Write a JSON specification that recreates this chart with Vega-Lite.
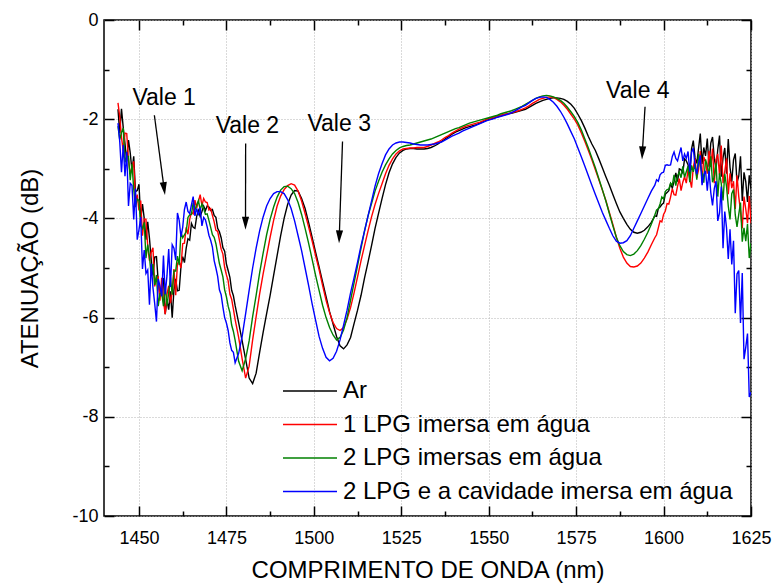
{
  "$schema": "https://vega.github.io/schema/vega-lite/v6.json",
  "width": 647,
  "height": 496,
  "autosize": {"type": "none"},
  "padding": {"left": 104, "top": 20, "right": 23, "bottom": 70},
  "background": "white",
  "config": {
    "font": "Liberation Sans",
    "view": {"stroke": "black", "strokeWidth": 1.5},
    "axis": {
      "labelFont": "Liberation Sans", "titleFont": "Liberation Sans",
      "labelFontSize": 18, "titleFontSize": 24, "titleFontWeight": "normal",
      "labelColor": "black", "titleColor": "black", "tickColor": "black",
      "tickWidth": 1.5, "domain": false, "labelFlush": false, "labelOverlap": false
    },
    "line": {"strokeWidth": 1.4}
  },
  "datasets": {
    "spectra": [
      {"w":1444,"a":-1.8,"b":-1.67,"c":-2.14,"d":-2.08},
      {"w":1444.5,"a":-2.28,"b":-1.95,"c":-2.41,"d":-2.45},
      {"w":1445,"a":-1.79,"b":-2.36,"c":-2.27,"d":-3.07},
      {"w":1445.5,"a":-2.17,"b":-2.65,"c":-2.18,"d":-2.52},
      {"w":1446,"a":-2.49,"b":-2.28,"c":-2.87,"d":-3.15},
      {"w":1446.5,"a":-2.85,"b":-2.29,"c":-2.75,"d":-2.66},
      {"w":1447,"a":-2.42,"b":-2.82,"c":-2.75,"d":-3.75},
      {"w":1447.5,"a":-2.68,"b":-3.11,"c":-3.23,"d":-3.29},
      {"w":1448,"a":-3.04,"b":-2.98,"c":-2.9,"d":-3.33},
      {"w":1448.5,"a":-2.75,"b":-2.85,"c":-3.41,"d":-4.02},
      {"w":1449,"a":-3.46,"b":-3.66,"c":-3.77,"d":-3.4},
      {"w":1449.5,"a":-3.44,"b":-3.52,"c":-3.61,"d":-4.43},
      {"w":1450,"a":-3.31,"b":-3.84,"c":-3.64,"d":-4.23},
      {"w":1450.5,"a":-4.02,"b":-3.64,"c":-4.15,"d":-3.97},
      {"w":1451,"a":-3.71,"b":-4.35,"c":-4.21,"d":-5.02},
      {"w":1451.5,"a":-4.0,"b":-4.01,"c":-4.08,"d":-4.64},
      {"w":1452,"a":-4.43,"b":-4.02,"c":-4.8,"d":-5.11},
      {"w":1452.5,"a":-4.07,"b":-4.56,"c":-4.53,"d":-5.04},
      {"w":1453,"a":-4.4,"b":-4.85,"c":-4.77,"d":-5.74},
      {"w":1453.5,"a":-4.83,"b":-4.68,"c":-5.16,"d":-4.91},
      {"w":1454,"a":-5.15,"b":-4.59,"c":-4.92,"d":-5.4},
      {"w":1454.5,"a":-4.78,"b":-5.37,"c":-5.34,"d":-5.72},
      {"w":1455,"a":-4.77,"b":-5.2,"c":-5.14,"d":-6.08},
      {"w":1455.5,"a":-5.27,"b":-5.18,"c":-5.77,"d":-5.22},
      {"w":1456,"a":-5.54,"b":-5.66,"c":-5.52,"d":-5.37},
      {"w":1456.5,"a":-5.38,"b":-5.2,"c":-5.5,"d":-5.57},
      {"w":1457,"a":-5.2,"b":-5.67,"c":-5.77,"d":-4.75},
      {"w":1457.5,"a":-5.93,"b":-5.93,"c":-5.35,"d":-5.53},
      {"w":1458,"a":-5.65,"b":-5.53,"c":-5.76,"d":-5.16},
      {"w":1458.5,"a":-5.84,"b":-5.36,"c":-5.5,"d":-4.62},
      {"w":1459,"a":-5.47,"b":-5.71,"c":-5.19,"d":-5.38},
      {"w":1459.5,"a":-6.0,"b":-5.49,"c":-5.54,"d":-4.53},
      {"w":1460,"a":-5.44,"b":-5.02,"c":-5.06,"d":-4.6},
      {"w":1460.5,"a":-5.22,"b":-5.55,"c":-5.06,"d":-4.84},
      {"w":1461,"a":-5.46,"b":-4.91,"c":-4.76,"d":-3.89},
      {"w":1461.5,"a":-5.45,"b":-4.87,"c":-4.94,"d":-4.04},
      {"w":1462,"a":-4.98,"b":-5.0,"c":-4.28,"d":-4.37},
      {"w":1462.5,"a":-4.77,"b":-4.51,"c":-4.39,"d":-4.18},
      {"w":1463,"a":-4.89,"b":-4.5,"c":-4.33,"d":-3.82},
      {"w":1463.5,"a":-4.6,"b":-4.18,"c":-4.27,"d":-3.67},
      {"w":1464,"a":-4.41,"b":-4.32,"c":-3.98,"d":-3.86},
      {"w":1464.5,"a":-4.44,"b":-4.02,"c":-3.93,"d":-3.9},
      {"w":1465,"a":-4.1,"b":-3.88,"c":-3.92,"d":-3.73},
      {"w":1465.5,"a":-4.18,"b":-3.91,"c":-3.68,"d":-3.56},
      {"w":1466,"a":-4.2,"b":-3.63,"c":-3.83,"d":-3.95},
      {"w":1466.5,"a":-3.96,"b":-3.79,"c":-3.73,"d":-3.8},
      {"w":1467,"a":-3.84,"b":-3.66,"c":-3.64,"d":-3.94},
      {"w":1467.5,"a":-3.96,"b":-3.52,"c":-3.83,"d":-3.78},
      {"w":1468,"a":-3.86,"b":-3.74,"c":-3.71,"d":-4.15},
      {"w":1468.5,"a":-3.75,"b":-3.6,"c":-3.8,"d":-3.98},
      {"w":1469,"a":-3.84,"b":-3.67,"c":-3.92,"d":-4.03},
      {"w":1469.5,"a":-3.75,"b":-3.68,"c":-3.91,"d":-4.17},
      {"w":1470,"a":-3.77,"b":-3.83,"c":-4.04,"d":-4.34},
      {"w":1470.5,"a":-3.84,"b":-3.8,"c":-4.18,"d":-4.44},
      {"w":1471,"a":-3.82,"b":-3.94,"c":-4.33,"d":-4.58},
      {"w":1471.5,"a":-3.94,"b":-4.07,"c":-4.38,"d":-4.85},
      {"w":1472,"a":-3.98,"b":-4.24,"c":-4.51,"d":-5.0},
      {"w":1472.5,"a":-4.2,"b":-4.26,"c":-4.71,"d":-5.17},
      {"w":1473,"a":-4.27,"b":-4.44,"c":-4.91,"d":-5.44},
      {"w":1473.5,"a":-4.39,"b":-4.62,"c":-5.04,"d":-5.54},
      {"w":1474,"a":-4.59,"b":-4.72,"c":-5.18,"d":-5.79},
      {"w":1474.5,"a":-4.66,"b":-4.99,"c":-5.44,"d":-6.0},
      {"w":1475,"a":-4.92,"b":-5.14,"c":-5.58,"d":-6.11},
      {"w":1475.5,"a":-5.05,"b":-5.26,"c":-5.77,"d":-6.26},
      {"w":1476,"a":-5.19,"b":-5.53,"c":-5.9,"d":-6.51},
      {"w":1476.5,"a":-5.45,"b":-5.63,"c":-6.15,"d":-6.66},
      {"w":1477,"a":-5.56,"b":-5.83,"c":-6.28,"d":-6.7},
      {"w":1477.5,"a":-5.76,"b":-6.04,"c":-6.46,"d":-6.91},
      {"w":1478.5,"a":-6.1,"b":-6.4,"c":-6.88,"d":-6.72},
      {"w":1479.5,"a":-6.47,"b":-6.83,"c":-7.07,"d":-6.38},
      {"w":1480.5,"a":-6.84,"b":-7.22,"c":-6.83,"d":-5.92},
      {"w":1481.5,"a":-7.22,"b":-6.98,"c":-6.47,"d":-5.45},
      {"w":1482.5,"a":-7.33,"b":-6.45,"c":-5.98,"d":-5.0},
      {"w":1483.5,"a":-7.12,"b":-5.98,"c":-5.55,"d":-4.6},
      {"w":1484.5,"a":-6.7,"b":-5.52,"c":-5.1,"d":-4.25},
      {"w":1485.5,"a":-6.3,"b":-5.12,"c":-4.7,"d":-3.97},
      {"w":1486.5,"a":-5.92,"b":-4.75,"c":-4.33,"d":-3.75},
      {"w":1487.5,"a":-5.55,"b":-4.38,"c":-4.02,"d":-3.6},
      {"w":1488.5,"a":-5.15,"b":-4.04,"c":-3.77,"d":-3.5},
      {"w":1489.5,"a":-4.75,"b":-3.75,"c":-3.57,"d":-3.46},
      {"w":1490.5,"a":-4.35,"b":-3.55,"c":-3.43,"d":-3.46},
      {"w":1491.5,"a":-4.0,"b":-3.42,"c":-3.36,"d":-3.5},
      {"w":1492.5,"a":-3.72,"b":-3.34,"c":-3.35,"d":-3.62},
      {"w":1493.5,"a":-3.53,"b":-3.3,"c":-3.4,"d":-3.8},
      {"w":1494.5,"a":-3.44,"b":-3.33,"c":-3.5,"d":-4.05},
      {"w":1495.5,"a":-3.45,"b":-3.45,"c":-3.68,"d":-4.35},
      {"w":1496.5,"a":-3.6,"b":-3.65,"c":-3.92,"d":-4.65},
      {"w":1497.5,"a":-3.8,"b":-3.9,"c":-4.2,"d":-5.0},
      {"w":1498.5,"a":-4.08,"b":-4.17,"c":-4.5,"d":-5.35},
      {"w":1499.5,"a":-4.38,"b":-4.45,"c":-4.82,"d":-5.72},
      {"w":1500.5,"a":-4.68,"b":-4.75,"c":-5.15,"d":-6.05},
      {"w":1501.5,"a":-4.98,"b":-5.03,"c":-5.45,"d":-6.38},
      {"w":1502.5,"a":-5.28,"b":-5.35,"c":-5.75,"d":-6.62},
      {"w":1503.5,"a":-5.58,"b":-5.65,"c":-6.0,"d":-6.8},
      {"w":1504.5,"a":-5.88,"b":-5.9,"c":-6.2,"d":-6.87},
      {"w":1505.5,"a":-6.13,"b":-6.1,"c":-6.35,"d":-6.82},
      {"w":1506.5,"a":-6.38,"b":-6.22,"c":-6.45,"d":-6.68},
      {"w":1507.5,"a":-6.57,"b":-6.26,"c":-6.4,"d":-6.45},
      {"w":1508.5,"a":-6.63,"b":-6.2,"c":-6.25,"d":-6.15},
      {"w":1509.5,"a":-6.55,"b":-6.03,"c":-6.0,"d":-5.85},
      {"w":1510.5,"a":-6.4,"b":-5.8,"c":-5.65,"d":-5.5},
      {"w":1511.5,"a":-6.12,"b":-5.5,"c":-5.3,"d":-5.2},
      {"w":1512.5,"a":-5.85,"b":-5.18,"c":-4.95,"d":-4.88},
      {"w":1513.5,"a":-5.55,"b":-4.85,"c":-4.6,"d":-4.55},
      {"w":1514.5,"a":-5.2,"b":-4.55,"c":-4.25,"d":-4.25},
      {"w":1515.5,"a":-4.88,"b":-4.25,"c":-3.95,"d":-3.95},
      {"w":1516.5,"a":-4.55,"b":-3.97,"c":-3.7,"d":-3.65},
      {"w":1517.5,"a":-4.2,"b":-3.72,"c":-3.45,"d":-3.35},
      {"w":1518.5,"a":-3.9,"b":-3.5,"c":-3.25,"d":-3.1},
      {"w":1519.5,"a":-3.6,"b":-3.3,"c":-3.07,"d":-2.9},
      {"w":1520.5,"a":-3.32,"b":-3.1,"c":-2.92,"d":-2.72},
      {"w":1521.5,"a":-3.08,"b":-2.93,"c":-2.8,"d":-2.6},
      {"w":1522.5,"a":-2.9,"b":-2.8,"c":-2.7,"d":-2.52},
      {"w":1523.5,"a":-2.77,"b":-2.7,"c":-2.63,"d":-2.48},
      {"w":1524.5,"a":-2.68,"b":-2.64,"c":-2.58,"d":-2.46},
      {"w":1525.5,"a":-2.63,"b":-2.6,"c":-2.55,"d":-2.46},
      {"w":1526.5,"a":-2.6,"b":-2.59,"c":-2.53,"d":-2.47},
      {"w":1527.5,"a":-2.59,"b":-2.58,"c":-2.52,"d":-2.48},
      {"w":1528.5,"a":-2.59,"b":-2.58,"c":-2.5,"d":-2.5},
      {"w":1529.5,"a":-2.6,"b":-2.57,"c":-2.48,"d":-2.51},
      {"w":1530.5,"a":-2.6,"b":-2.57,"c":-2.46,"d":-2.52},
      {"w":1531.5,"a":-2.6,"b":-2.57,"c":-2.44,"d":-2.52},
      {"w":1532.5,"a":-2.59,"b":-2.55,"c":-2.42,"d":-2.52},
      {"w":1533.5,"a":-2.57,"b":-2.52,"c":-2.4,"d":-2.51},
      {"w":1534.5,"a":-2.54,"b":-2.49,"c":-2.37,"d":-2.5},
      {"w":1535.5,"a":-2.5,"b":-2.46,"c":-2.34,"d":-2.48},
      {"w":1536.5,"a":-2.45,"b":-2.42,"c":-2.31,"d":-2.46},
      {"w":1537.5,"a":-2.4,"b":-2.37,"c":-2.28,"d":-2.42},
      {"w":1538.5,"a":-2.35,"b":-2.33,"c":-2.25,"d":-2.38},
      {"w":1539.5,"a":-2.3,"b":-2.28,"c":-2.22,"d":-2.34},
      {"w":1540.5,"a":-2.26,"b":-2.24,"c":-2.19,"d":-2.31},
      {"w":1541.5,"a":-2.23,"b":-2.2,"c":-2.17,"d":-2.28},
      {"w":1542.5,"a":-2.2,"b":-2.17,"c":-2.14,"d":-2.24},
      {"w":1543.5,"a":-2.17,"b":-2.14,"c":-2.11,"d":-2.21},
      {"w":1544.5,"a":-2.15,"b":-2.12,"c":-2.08,"d":-2.18},
      {"w":1545.5,"a":-2.13,"b":-2.1,"c":-2.06,"d":-2.15},
      {"w":1546.5,"a":-2.11,"b":-2.08,"c":-2.04,"d":-2.12},
      {"w":1547.5,"a":-2.08,"b":-2.06,"c":-2.02,"d":-2.09},
      {"w":1548.5,"a":-2.05,"b":-2.03,"c":-2.0,"d":-2.06},
      {"w":1549.5,"a":-2.02,"b":-2.0,"c":-1.98,"d":-2.03},
      {"w":1550.5,"a":-2.0,"b":-1.98,"c":-1.96,"d":-2.01},
      {"w":1551.5,"a":-1.98,"b":-1.96,"c":-1.94,"d":-1.99},
      {"w":1552.5,"a":-1.95,"b":-1.94,"c":-1.92,"d":-1.96},
      {"w":1553.5,"a":-1.93,"b":-1.92,"c":-1.89,"d":-1.94},
      {"w":1554.5,"a":-1.91,"b":-1.9,"c":-1.87,"d":-1.92},
      {"w":1555.5,"a":-1.89,"b":-1.89,"c":-1.85,"d":-1.9},
      {"w":1556.5,"a":-1.88,"b":-1.87,"c":-1.83,"d":-1.87},
      {"w":1557.5,"a":-1.86,"b":-1.85,"c":-1.8,"d":-1.83},
      {"w":1558.5,"a":-1.84,"b":-1.83,"c":-1.77,"d":-1.79},
      {"w":1559.5,"a":-1.82,"b":-1.8,"c":-1.74,"d":-1.75},
      {"w":1560.5,"a":-1.8,"b":-1.77,"c":-1.7,"d":-1.72},
      {"w":1561.5,"a":-1.76,"b":-1.73,"c":-1.66,"d":-1.67},
      {"w":1562.5,"a":-1.72,"b":-1.68,"c":-1.62,"d":-1.62},
      {"w":1563.5,"a":-1.68,"b":-1.64,"c":-1.58,"d":-1.58},
      {"w":1564.5,"a":-1.65,"b":-1.6,"c":-1.55,"d":-1.56},
      {"w":1565.5,"a":-1.62,"b":-1.58,"c":-1.53,"d":-1.55},
      {"w":1566.5,"a":-1.6,"b":-1.56,"c":-1.52,"d":-1.56},
      {"w":1567.5,"a":-1.58,"b":-1.55,"c":-1.53,"d":-1.6},
      {"w":1568.5,"a":-1.57,"b":-1.56,"c":-1.55,"d":-1.66},
      {"w":1569.5,"a":-1.57,"b":-1.6,"c":-1.58,"d":-1.74},
      {"w":1570.5,"a":-1.58,"b":-1.65,"c":-1.62,"d":-1.84},
      {"w":1571.5,"a":-1.6,"b":-1.72,"c":-1.68,"d":-1.96},
      {"w":1572.5,"a":-1.64,"b":-1.8,"c":-1.76,"d":-2.1},
      {"w":1573.5,"a":-1.7,"b":-1.9,"c":-1.85,"d":-2.25},
      {"w":1574.5,"a":-1.78,"b":-2.0,"c":-1.95,"d":-2.4},
      {"w":1575.5,"a":-1.9,"b":-2.12,"c":-2.07,"d":-2.58},
      {"w":1576.5,"a":-2.03,"b":-2.28,"c":-2.22,"d":-2.76},
      {"w":1577.5,"a":-2.18,"b":-2.45,"c":-2.4,"d":-2.95},
      {"w":1578.5,"a":-2.35,"b":-2.63,"c":-2.58,"d":-3.14},
      {"w":1579.5,"a":-2.5,"b":-2.82,"c":-2.78,"d":-3.33},
      {"w":1580.5,"a":-2.63,"b":-3.02,"c":-2.98,"d":-3.52},
      {"w":1581.5,"a":-2.8,"b":-3.22,"c":-3.2,"d":-3.7},
      {"w":1582.5,"a":-2.98,"b":-3.43,"c":-3.42,"d":-3.88},
      {"w":1583.5,"a":-3.16,"b":-3.64,"c":-3.65,"d":-4.04},
      {"w":1584.5,"a":-3.33,"b":-3.88,"c":-3.9,"d":-4.2},
      {"w":1585.5,"a":-3.52,"b":-4.12,"c":-4.15,"d":-4.35},
      {"w":1586.5,"a":-3.7,"b":-4.38,"c":-4.38,"d":-4.46},
      {"w":1587.5,"a":-3.87,"b":-4.6,"c":-4.55,"d":-4.5},
      {"w":1588.5,"a":-4.0,"b":-4.78,"c":-4.67,"d":-4.49},
      {"w":1589.5,"a":-4.12,"b":-4.9,"c":-4.73,"d":-4.45},
      {"w":1590.5,"a":-4.22,"b":-4.97,"c":-4.75,"d":-4.35},
      {"w":1591.5,"a":-4.28,"b":-4.98,"c":-4.72,"d":-4.2},
      {"w":1592.5,"a":-4.3,"b":-4.96,"c":-4.65,"d":-4.05},
      {"w":1593.5,"a":-4.28,"b":-4.9,"c":-4.55,"d":-3.9},
      {"w":1594.5,"a":-4.24,"b":-4.8,"c":-4.42,"d":-3.75},
      {"w":1595.5,"a":-4.17,"b":-4.68,"c":-4.28,"d":-3.6},
      {"w":1596.5,"a":-4.08,"b":-4.53,"c":-4.12,"d":-3.45},
      {"w":1597.5,"a":-3.95,"b":-4.39,"c":-3.93,"d":-3.33},
      {"w":1598,"a":-3.96,"b":-4.33,"c":-3.83,"d":-3.22},
      {"w":1598.5,"a":-3.8,"b":-4.19,"c":-3.81,"d":-3.25},
      {"w":1599,"a":-3.77,"b":-4.05,"c":-3.71,"d":-3.12},
      {"w":1599.5,"a":-3.72,"b":-4.07,"c":-3.57,"d":-3.08},
      {"w":1600,"a":-3.69,"b":-3.92,"c":-3.61,"d":-3.07},
      {"w":1600.5,"a":-3.51,"b":-3.85,"c":-3.46,"d":-2.93},
      {"w":1601,"a":-3.48,"b":-3.7,"c":-3.42,"d":-2.92},
      {"w":1601.5,"a":-3.44,"b":-3.71,"c":-3.41,"d":-2.93},
      {"w":1602,"a":-3.3,"b":-3.57,"c":-3.29,"d":-2.92},
      {"w":1602.5,"a":-3.39,"b":-3.4,"c":-3.33,"d":-2.75},
      {"w":1603,"a":-3.26,"b":-3.52,"c":-3.12,"d":-2.66},
      {"w":1603.5,"a":-3.08,"b":-3.53,"c":-3.34,"d":-2.79},
      {"w":1604,"a":-3.26,"b":-3.35,"c":-3.14,"d":-2.84},
      {"w":1604.5,"a":-3.0,"b":-3.2,"c":-3.07,"d":-2.7},
      {"w":1605,"a":-3.02,"b":-3.44,"c":-3.18,"d":-2.57},
      {"w":1605.5,"a":-3.08,"b":-3.27,"c":-2.95,"d":-2.84},
      {"w":1606,"a":-2.8,"b":-3.16,"c":-3.17,"d":-2.7},
      {"w":1606.5,"a":-2.84,"b":-3.29,"c":-3.06,"d":-2.79},
      {"w":1607,"a":-2.92,"b":-3.01,"c":-2.95,"d":-2.65},
      {"w":1607.5,"a":-3.15,"b":-3.2,"c":-3.27,"d":-3.06},
      {"w":1608,"a":-2.6,"b":-3.38,"c":-2.93,"d":-2.67},
      {"w":1608.5,"a":-2.43,"b":-2.97,"c":-3.06,"d":-2.58},
      {"w":1609,"a":-2.78,"b":-2.79,"c":-2.9,"d":-2.95},
      {"w":1609.5,"a":-2.89,"b":-3.18,"c":-3.22,"d":-3.11},
      {"w":1610,"a":-2.59,"b":-3.02,"c":-2.7,"d":-2.89},
      {"w":1610.5,"a":-2.29,"b":-2.64,"c":-2.94,"d":-2.73},
      {"w":1611,"a":-2.9,"b":-3.28,"c":-3.09,"d":-3.33},
      {"w":1611.5,"a":-2.57,"b":-2.76,"c":-3.28,"d":-3.12},
      {"w":1612,"a":-2.74,"b":-2.85,"c":-2.81,"d":-3.04},
      {"w":1612.5,"a":-2.39,"b":-3.1,"c":-2.94,"d":-3.44},
      {"w":1613,"a":-2.96,"b":-2.64,"c":-3.12,"d":-3.04},
      {"w":1613.5,"a":-2.48,"b":-2.96,"c":-2.75,"d":-3.48},
      {"w":1614,"a":-2.36,"b":-2.59,"c":-3.27,"d":-3.74},
      {"w":1614.5,"a":-2.79,"b":-3.29,"c":-3.16,"d":-3.4},
      {"w":1615,"a":-3.0,"b":-2.81,"c":-2.88,"d":-3.25},
      {"w":1615.5,"a":-2.61,"b":-2.7,"c":-3.56,"d":-4.05},
      {"w":1616,"a":-2.33,"b":-3.13,"c":-3.09,"d":-3.89},
      {"w":1616.5,"a":-3.16,"b":-2.53,"c":-3.3,"d":-3.36},
      {"w":1617,"a":-2.78,"b":-3.29,"c":-3.64,"d":-4.6},
      {"w":1617.5,"a":-2.58,"b":-3.05,"c":-3.1,"d":-3.86},
      {"w":1618,"a":-3.1,"b":-2.79,"c":-3.36,"d":-4.19},
      {"w":1618.5,"a":-2.4,"b":-3.51,"c":-3.75,"d":-4.82},
      {"w":1619,"a":-2.97,"b":-3.09,"c":-4.02,"d":-4.22},
      {"w":1619.5,"a":-3.26,"b":-3.39,"c":-3.5,"d":-4.93},
      {"w":1620,"a":-2.82,"b":-3.25,"c":-3.42,"d":-4.45},
      {"w":1620.5,"a":-2.69,"b":-3.81,"c":-3.93,"d":-5.91},
      {"w":1621,"a":-3.28,"b":-3.13,"c":-4.17,"d":-5.12},
      {"w":1621.5,"a":-3.15,"b":-3.56,"c":-3.92,"d":-5.05},
      {"w":1622,"a":-2.75,"b":-3.86,"c":-3.68,"d":-6.11},
      {"w":1622.5,"a":-3.65,"b":-4.2,"c":-4.47,"d":-5.1},
      {"w":1623,"a":-3.07,"b":-3.56,"c":-4.19,"d":-6.84},
      {"w":1623.5,"a":-3.26,"b":-3.81,"c":-4.46,"d":-6.6},
      {"w":1624,"a":-3.67,"b":-4.09,"c":-4.11,"d":-6.32},
      {"w":1624.5,"a":-3.13,"b":-3.55,"c":-4.8,"d":-7.6},
      {"w":1625,"a":-3.4,"b":-4.1,"c":-4.5,"d":-7.5}
    ],
    "vales": [
      {"label": "Vale 1", "tx": 1457.2, "ty": -1.71},
      {"label": "Vale 2", "tx": 1481.0, "ty": -2.28},
      {"label": "Vale 3", "tx": 1507.25, "ty": -2.24},
      {"label": "Vale 4", "tx": 1592.65, "ty": -1.58}
    ],
    "arrows": [
      {"n": 1, "x1": 1454.4, "y1": -1.92, "x2": 1457.19, "y2": -3.4},
      {"n": 2, "x1": 1480.5, "y1": -2.49, "x2": 1480.46, "y2": -4.1},
      {"n": 3, "x1": 1508.2, "y1": -2.45, "x2": 1507.27, "y2": -4.37},
      {"n": 4, "x1": 1594.7, "y1": -1.75, "x2": 1593.93, "y2": -2.68}
    ]
  },
  "data": {"name": "spectra"},
  "layer": [
    {
      "mark": {"type": "line", "clip": true},
      "encoding": {
        "x": {"field": "w", "type": "quantitative",
              "scale": {"domain": [1440, 1625], "nice": false, "zero": false},
              "axis": {"orient": "bottom", "values": [1450, 1475, 1500, 1525, 1550, 1575, 1600, 1625],
                       "labelExpr": "'' + datum.value",
                       "title": "COMPRIMENTO DE ONDA (nm)", "grid": true, "gridDash": [1, 2], "gridColor": "#b4b4b4",
                       "tickSize": -10, "labelPadding": 23, "titlePadding": 11}},
        "y": {"field": "a", "type": "quantitative",
              "scale": {"domain": [-10, 0], "nice": false, "zero": false},
              "axis": {"orient": "left", "values": [-10, -8, -6, -4, -2, 0], "labelExpr": "'' + datum.value",
                       "title": "ATENUAÇÃO (dB)", "grid": true, "gridDash": [1, 2], "gridColor": "#b4b4b4",
                       "tickSize": -10, "labelPadding": 16, "titlePadding": 29}},
        "color": {"datum": "Ar", "type": "nominal",
                  "scale": {"domain": ["Ar", "1 LPG imersa em água", "2 LPG imersas em água", "2 LPG e a cavidade imersa em água"],
                            "range": ["#000000", "#ff0000", "#008000", "#0000ff"]},
                  "legend": {"title": null, "orient": "none", "legendX": 178, "legendY": 361,
                             "symbolType": "stroke", "symbolSize": 2916, "symbolStrokeWidth": 1.5,
                             "labelFontSize": 24, "labelFont": "Liberation Sans", "labelColor": "black",
                             "labelLimit": 600, "labelOffset": 5, "clipHeight": 20, "rowPadding": 9.5,
                             "padding": 0, "offset": 0}}
      }
    },
    {
      "mark": {"type": "line", "clip": true},
      "encoding": {
        "x": {"field": "w", "type": "quantitative",
              "axis": {"orient": "bottom", "values": [1462.5, 1487.5, 1512.5, 1537.5, 1562.5, 1587.5, 1612.5],
                       "labels": false, "grid": false, "tickSize": -5, "title": null}},
        "y": {"field": "b", "type": "quantitative",
              "axis": {"orient": "left", "values": [-9, -7, -5, -3, -1], "labels": false, "grid": false,
                       "tickSize": -5, "title": null}},
        "color": {"datum": "1 LPG imersa em água", "type": "nominal"}
      }
    },
    {
      "mark": {"type": "line", "clip": true},
      "encoding": {
        "x": {"field": "w", "type": "quantitative",
              "axis": {"orient": "top", "values": [1450, 1475, 1500, 1525, 1550, 1575, 1600, 1625],
                       "labels": false, "grid": false, "tickSize": -10, "title": null}},
        "y": {"field": "c", "type": "quantitative",
              "axis": {"orient": "right", "values": [-10, -8, -6, -4, -2, 0], "labels": false, "grid": false,
                       "tickSize": -10, "title": null}},
        "color": {"datum": "2 LPG imersas em água", "type": "nominal"}
      }
    },
    {
      "mark": {"type": "line", "clip": true},
      "encoding": {
        "x": {"field": "w", "type": "quantitative",
              "axis": {"orient": "top", "values": [1462.5, 1487.5, 1512.5, 1537.5, 1562.5, 1587.5, 1612.5],
                       "labels": false, "grid": false, "tickSize": -5, "title": null}},
        "y": {"field": "d", "type": "quantitative",
              "axis": {"orient": "right", "values": [-9, -7, -5, -3, -1], "labels": false, "grid": false,
                       "tickSize": -5, "title": null}},
        "color": {"datum": "2 LPG e a cavidade imersa em água", "type": "nominal"}
      }
    },
    {
      "data": {"name": "arrows"},
      "mark": {"type": "rule", "color": "black", "strokeWidth": 1.3},
      "encoding": {
        "x": {"field": "x1", "type": "quantitative", "axis": null},
        "y": {"field": "y1", "type": "quantitative", "axis": null},
        "x2": {"field": "x2"},
        "y2": {"field": "y2"}
      }
    },
    {
      "data": {"name": "arrows"},
      "transform": [{"filter": "datum.n == 1"}],
      "mark": {"type": "point", "shape": "M-0.55,-1L0.55,-1L0,1Z", "size": 169, "filled": true, "color": "black", "opacity": 1, "angle": -7.6},
      "encoding": {
        "x": {"field": "x2", "type": "quantitative", "axis": null},
        "y": {"field": "y2", "type": "quantitative", "axis": null}
      }
    },
    {
      "data": {"name": "arrows"},
      "transform": [{"filter": "datum.n == 2"}],
      "mark": {"type": "point", "shape": "M-0.55,-1L0.55,-1L0,1Z", "size": 169, "filled": true, "color": "black", "opacity": 1, "angle": 0},
      "encoding": {
        "x": {"field": "x2", "type": "quantitative", "axis": null},
        "y": {"field": "y2", "type": "quantitative", "axis": null}
      }
    },
    {
      "data": {"name": "arrows"},
      "transform": [{"filter": "datum.n == 3"}],
      "mark": {"type": "point", "shape": "M-0.55,-1L0.55,-1L0,1Z", "size": 169, "filled": true, "color": "black", "opacity": 1, "angle": 2.1},
      "encoding": {
        "x": {"field": "x2", "type": "quantitative", "axis": null},
        "y": {"field": "y2", "type": "quantitative", "axis": null}
      }
    },
    {
      "data": {"name": "arrows"},
      "transform": [{"filter": "datum.n == 4"}],
      "mark": {"type": "point", "shape": "M-0.55,-1L0.55,-1L0,1Z", "size": 169, "filled": true, "color": "black", "opacity": 1, "angle": 2.9},
      "encoding": {
        "x": {"field": "x2", "type": "quantitative", "axis": null},
        "y": {"field": "y2", "type": "quantitative", "axis": null}
      }
    },
    {
      "data": {"name": "vales"},
      "mark": {"type": "text", "font": "Liberation Sans", "fontSize": 23, "color": "black", "align": "center", "baseline": "alphabetic"},
      "encoding": {
        "x": {"field": "tx", "type": "quantitative", "axis": null},
        "y": {"field": "ty", "type": "quantitative", "axis": null},
        "text": {"field": "label"}
      }
    }
  ],
  "resolve": {"axis": {"x": "independent", "y": "independent"}}
}
